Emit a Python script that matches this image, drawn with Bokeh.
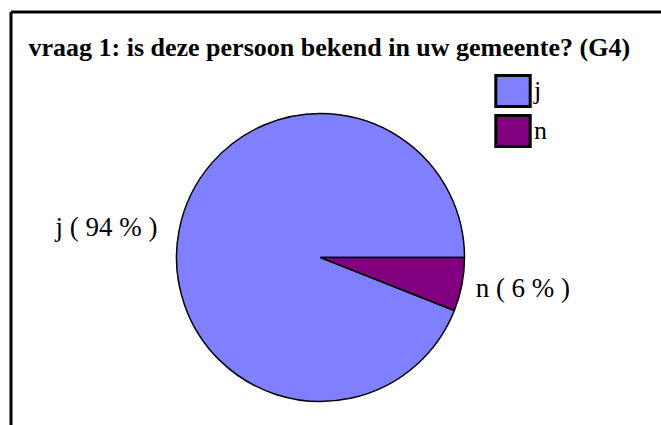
import math
from bokeh.plotting import figure
from bokeh.models import Range1d, ColumnDataSource, Legend, LegendItem
from bokeh.core.properties import value
from bokeh.embed import file_html
from bokeh.resources import INLINE

title_text = "vraag 1: is deze persoon bekend in uw gemeente? (G4)"
categories = ["j", "n"]
values = [94, 6]
colors = ["#8080ff", "#800080"]

W, H = 661, 425
p = figure(width=W, height=H, output_backend="svg", toolbar_location=None,
           x_range=Range1d(0, W), y_range=Range1d(0, H),
           x_axis_location=None, y_axis_location=None, min_border=0,
           outline_line_color=None, background_fill_color="white")
p.grid.visible = False

# frame lines (decoration)
p.segment(x0=[10.5, 10.5], y0=[H - 11.5, H - 11.5], x1=[W + 5, 10.5], y1=[H - 11.5, -5],
          line_color="black", line_width=3)

# title
p.text(x=[28], y=[H - 47], text=[title_text], text_font=value("Liberation Serif"),
       text_font_style="bold", text_font_size="26px", text_baseline="middle",
       text_align="left", text_color="black")

# pie
cx, cy, r = 320, H - 257, 144
total = sum(values)
# n starts at 3 o'clock, going clockwise; j takes the rest
order = list(reversed(range(len(values))))
starts, ends, mids = [0.0] * len(values), [0.0] * len(values), [0.0] * len(values)
acc = 0.0
for i in order:
    a0 = -2 * math.pi * acc / total
    acc += values[i]
    a1 = -2 * math.pi * acc / total
    starts[i], ends[i], mids[i] = a0, a1, (a0 + a1) / 2

src = ColumnDataSource(dict(cat=categories, val=values, color=colors,
                            start=starts, end=ends))
wr = p.wedge(x=cx, y=cy, radius=r, start_angle="start", end_angle="end",
             direction="clock", fill_color="color", line_color="black",
             line_width=1.5, source=src)

# labels
lx, ly, la, lt = [], [], [], []
for i, c in enumerate(categories):
    m = mids[i]
    d = r + 18
    lx.append(cx + d * math.cos(m))
    ly.append(cy + d * math.sin(m))
    la.append("right" if math.cos(m) < 0 else "left")
    lt.append(f"{c} ( {round(100 * values[i] / total)} % )")
p.text(x=lx, y=ly, text=lt, text_align=la, text_baseline="middle", x_offset=-4,
       text_font=value("Liberation Serif"), text_font_size="27px", text_color="black")

# legend swatches (hidden zero-size renderers used only for the legend boxes)
items = []
for c, col in zip(categories, colors):
    rr = p.rect(x=[cx], y=[cy], width=[0], height=[0], fill_color=col,
                line_color="black", line_width=3, line_join="miter", visible=False)
    items.append(LegendItem(label=c, renderers=[rr], index=0))
legend = Legend(items=items, label_text_font="Liberation Serif",
                label_text_font_size="26px", label_text_color="black",
                glyph_width=43, glyph_height=39,
                label_standoff=0, spacing=1, padding=0, margin=0,
                border_line_color=None, background_fill_alpha=0,
                label_height=39)
legend.location = (491, H - 150)
p.add_layout(legend)

open("out.html", "w").write(file_html(p, INLINE))
